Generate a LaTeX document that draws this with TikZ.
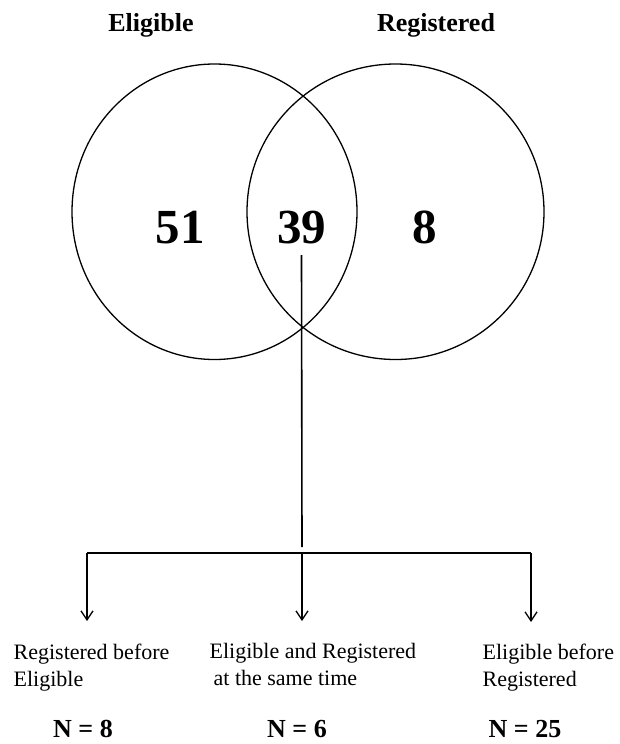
\documentclass[tikz,border=0pt]{standalone}
\usepackage{fontspec}
\setmainfont{Liberation Serif}
\usetikzlibrary{arrows.meta}

\begin{document}
\begin{tikzpicture}[x=1pt,y=-1pt,line width=1.3pt,
  title/.style={font=\fontsize{26}{30}\selectfont\bfseries,inner sep=0pt,anchor=base},
  bignum/.style={font=\fontsize{49}{55}\selectfont\bfseries,inner sep=0pt,anchor=base},
  grouptext/.style={font=\fontsize{22}{27}\selectfont,inner sep=0pt,anchor=north west,align=left},
  nval/.style={font=\fontsize{26}{30}\selectfont\bfseries,inner sep=0pt,anchor=base},
  down/.style={-{Straight Barb[length=9pt,width=12pt]}}]
  \useasboundingbox (0,0) rectangle (619,744);

  % the two sets
  \draw (214.5,211.75) ellipse [x radius=142.5,y radius=147.75];
  \draw (395.5,211.75) ellipse [x radius=148.5,y radius=147.75];
  \node[title] (elig) at (151,31) {Eligible};
  \node[title] (regi) at (436,31) {Registered};

  \node[bignum] (n51) at (180,243) {51};
  \node[bignum] (n39) at (301.5,243) {39};
  \node[bignum] (n8) at (425,243) {8};

  % split of the overlap
  \coordinate (stemend) at (302,547);
  \coordinate (barL) at (87,553);
  \coordinate (barM) at (302,553);
  \coordinate (barR) at (531,553);
  \coordinate (tipL) at (87,621);
  \coordinate (tipM) at (302,621);
  \coordinate (tipR) at (531,622);

  \draw[line width=1.6pt] ([yshift=-11pt]n39.south) -- (stemend);
  \draw (barL) -- (barR);
  \foreach \s in {L,M,R}
    \draw[down] (bar\s) -- (tip\s);

  \node[grouptext] (regbefore) at (13,643) {Registered before\\Eligible};
  \node[grouptext] (sametime) at (209,643) {Eligible and Registered\\\hspace{4pt}at the same time};
  \node[grouptext] (eligbefore) at (482,643) {Eligible before\\Registered};

  \node[nval] (nL) at (83,737) {N = 8};
  \node[nval] (nM) at (297,737) {N = 6};
  \node[nval] (nR) at (525,737) {N = 25};
\end{tikzpicture}
\end{document}
